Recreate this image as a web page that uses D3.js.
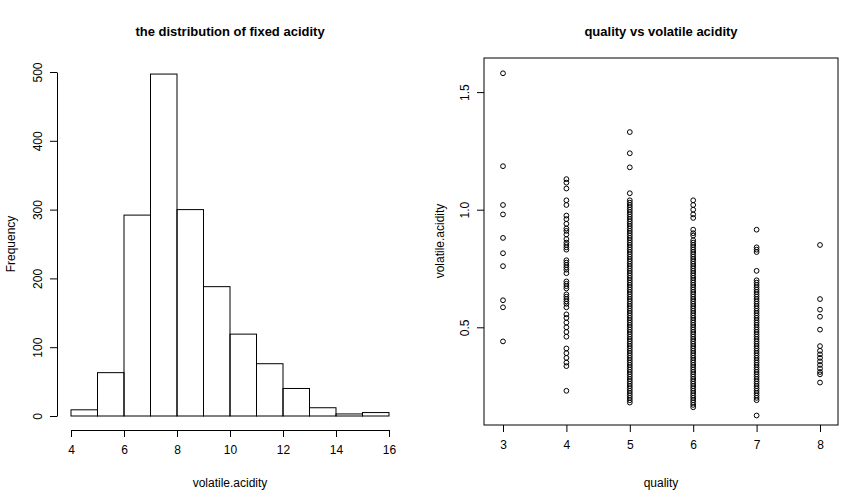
<!DOCTYPE html>
<html><head><meta charset="utf-8">
<script src="https://cdn.jsdelivr.net/npm/d3@7"></script>
<style>body{margin:0;background:#fff}text{font-family:"Liberation Sans",Arial,sans-serif}</style>
</head><body><div id="chart"></div>
<script>
// histogram bins (fixed acidity)
var binEdges = [4,5,6,7,8,9,10,11,12,13,14,15,16];
var binCounts = [9,63,292,497,300,188,119,76,40,12,3,5];
var histYTicks = [0,100,200,300,400,500];
var histXTicks = [4,6,8,10,12,14,16];

// scatter: volatile acidity by quality
var q3 = [1.58,1.185,1.02,0.98,0.88,0.815,0.76,0.615,0.585,0.44];
var q4 = [1.13,1.115,1.09,1.04,1.02,0.975,0.96,0.94,0.92,0.91,0.895,0.875,0.86,0.85,0.84,0.83,0.785,0.775,0.765,0.755,0.745,0.73,
  0.695,0.685,0.675,0.665,0.64,0.63,0.62,0.61,0.6,0.585,0.555,0.54,0.52,0.5,0.48,0.46,0.41,0.39,0.37,0.35,0.335,0.23];
var q5 = [1.33,1.24,1.18,1.07,1.04,1.03,1.02,1.01,1.0,0.99,0.98,0.97,0.96,0.95,0.94,0.93,0.92,0.91,0.9,0.89,0.88,0.87,0.86,0.85,
  0.84,0.83,0.82,0.81,0.8,0.79,0.78,0.77,0.76,0.75,0.74,0.73,0.72,0.71,0.7,0.69,0.68,0.67,0.66,0.65,0.64,0.63,0.62,0.61,0.6,
  0.59,0.58,0.57,0.56,0.55,0.54,0.53,0.52,0.51,0.5,0.49,0.48,0.47,0.46,0.45,0.44,0.43,0.42,0.41,0.4,0.39,0.38,0.37,0.36,0.35,
  0.34,0.33,0.32,0.31,0.3,0.29,0.28,0.27,0.26,0.25,0.24,0.23,0.22,0.21,0.2,0.19,0.18];
var q6 = [1.04,1.02,1.0,0.98,0.965,0.915,0.9,0.89,0.87,0.86,0.85,0.84,0.83,0.82,0.81,0.8,0.79,0.78,0.77,0.76,0.75,0.74,0.73,
  0.72,0.71,0.7,0.69,0.68,0.67,0.66,0.65,0.64,0.63,0.62,0.61,0.6,0.59,0.58,0.57,0.56,0.55,0.54,0.53,0.52,0.51,0.5,0.49,0.48,
  0.47,0.46,0.45,0.44,0.43,0.42,0.41,0.4,0.39,0.38,0.37,0.36,0.35,0.34,0.33,0.32,0.31,0.3,0.29,0.28,0.27,0.26,0.25,0.24,0.23,
  0.22,0.21,0.2,0.19,0.18,0.17,0.16];
var q7 = [0.915,0.84,0.83,0.82,0.74,0.7,0.69,0.68,0.67,0.66,0.65,0.64,0.63,0.62,0.61,0.6,0.59,0.58,0.57,0.56,0.55,0.54,0.53,
  0.52,0.51,0.5,0.49,0.48,0.47,0.46,0.45,0.44,0.43,0.42,0.41,0.4,0.39,0.38,0.37,0.36,0.35,0.34,0.33,0.32,0.31,0.3,0.29,0.28,
  0.27,0.26,0.25,0.24,0.23,0.22,0.21,0.2,0.19,0.125];
var q8 = [0.85,0.62,0.575,0.545,0.49,0.42,0.4,0.385,0.37,0.355,0.34,0.325,0.31,0.3,0.265];
var qualities = [3,4,5,6,7,8];
var scatterYTicks = [0.5,1.0,1.5];

var svg = d3.select("#chart").append("svg").attr("width",864).attr("height",504);

// ---- histogram ----
var hx = d3.scaleLinear().domain([4,16]).range([71,389]);
var hy = d3.scaleLinear().domain([0,500]).range([416,72]);
var bins = binCounts.map((c,i) => ({x0:binEdges[i], x1:binEdges[i+1], n:c}));
svg.append("g").selectAll("rect").data(bins).join("rect")
  .attr("x", d => hx(d.x0)).attr("y", d => hy(d.n))
  .attr("width", d => hx(d.x1)-hx(d.x0)).attr("height", d => hy(0)-hy(d.n))
  .attr("fill","none").attr("stroke","#000");
svg.append("g").attr("transform","translate(0,430)")
  .call(d3.axisBottom(hx).tickValues(histXTicks).tickSize(7).tickSizeOuter(0).tickPadding(8).tickFormat(d3.format("d")))
  .call(g => g.selectAll("text").attr("font-size",12).attr("fill","#000"));
var hyAxis = svg.append("g").attr("transform","translate(57,0)")
  .call(d3.axisLeft(hy).tickValues(histYTicks).tickSize(7).tickSizeOuter(0));
hyAxis.selectAll("text").attr("font-size",12).attr("fill","#000").attr("text-anchor","middle")
  .attr("x",0).attr("y",0).attr("dy",null).attr("transform","translate(-15,0) rotate(-90)");
svg.selectAll(".domain").attr("stroke","#000");
svg.append("text").attr("x",230).attr("y",36).attr("text-anchor","middle").attr("font-weight","bold").attr("font-size",13)
  .text("the distribution of fixed acidity");
svg.append("text").attr("x",230).attr("y",487).attr("text-anchor","middle").attr("font-size",12).text("volatile.acidity");
svg.append("text").attr("transform","translate(15,244) rotate(-90)").attr("text-anchor","middle").attr("font-size",12).text("Frequency");

// ---- scatter ----
var sx = d3.scaleLinear().domain([3,8]).range([503,820]);
var sy = d3.scaleLinear().domain([0.5,1.0]).range([327.3,209.7]);
svg.append("rect").attr("x",484).attr("y",58).attr("width",354).attr("height",367).attr("fill","none").attr("stroke","#000");
var pts = [];
[q3,q4,q5,q6,q7,q8].forEach((arr,i) => arr.forEach(v => pts.push({q:qualities[i], v:v})));
svg.append("g").selectAll("circle").data(pts).join("circle")
  .attr("cx", d => sx(d.q)).attr("cy", d => sy(d.v)).attr("r",2.4)
  .attr("fill","none").attr("stroke","#000").attr("stroke-width",1);
var sxAxis = svg.append("g").attr("transform","translate(0,425)")
  .call(d3.axisBottom(sx).tickValues(qualities).tickSize(7).tickPadding(8).tickFormat(d3.format("d")));
sxAxis.select(".domain").remove();
sxAxis.selectAll("text").attr("font-size",12).attr("fill","#000");
var syAxis = svg.append("g").attr("transform","translate(484,0)")
  .call(d3.axisLeft(sy).tickValues(scatterYTicks).tickSize(7).tickFormat(d3.format(".1f")));
syAxis.select(".domain").remove();
syAxis.selectAll("text").attr("font-size",12).attr("fill","#000").attr("text-anchor","middle")
  .attr("x",0).attr("y",0).attr("dy",null).attr("transform","translate(-15,0) rotate(-90)");
svg.append("text").attr("x",661).attr("y",36).attr("text-anchor","middle").attr("font-weight","bold").attr("font-size",13)
  .text("quality vs volatile acidity");
svg.append("text").attr("x",661).attr("y",487).attr("text-anchor","middle").attr("font-size",12).text("quality");
svg.append("text").attr("transform","translate(444,241) rotate(-90)").attr("text-anchor","middle").attr("font-size",12).text("volatile.acidity");
</script></body></html>
